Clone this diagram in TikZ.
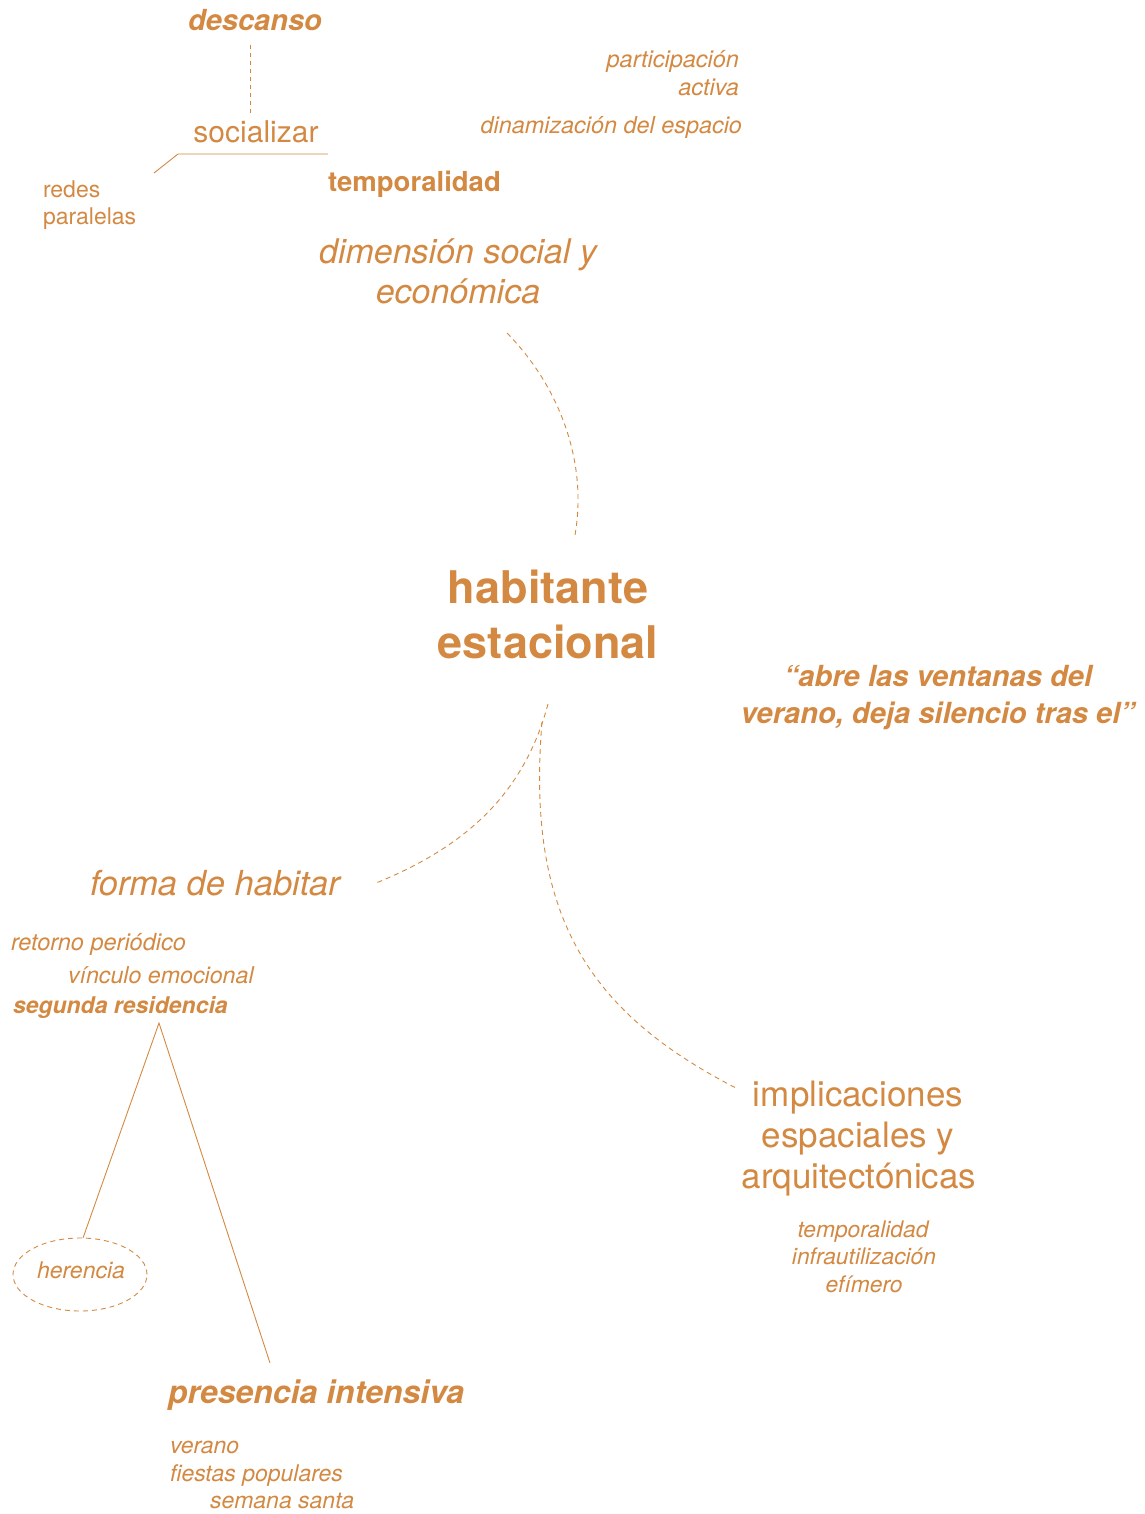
\documentclass[tikz,border=0pt]{standalone}
\usepackage{fontspec}
\setmainfont{TeX Gyre Heros}
\usetikzlibrary{shapes.geometric}
\definecolor{oc}{RGB}{211,137,66}
\tikzset{
  lbl/.style={text=oc, inner sep=0pt, outer sep=0pt},
  rg/.style={lbl, font=\fontsize{#1}{#1}\selectfont},
  it/.style={lbl, font=\fontsize{#1}{#1}\selectfont\itshape},
  bd/.style={lbl, font=\fontsize{#1}{#1}\selectfont\bfseries},
  bi/.style={lbl, font=\fontsize{#1}{#1}\selectfont\bfseries\itshape},
  dashlink/.style={draw=oc, line width=0.9pt, dash pattern=on 5pt off 4pt},
  solidlink/.style={draw=oc, line width=0.9pt},
}
\begin{document}
\begin{tikzpicture}[x=1pt, y=-1pt]
\useasboundingbox (0,0) rectangle (1144,1514);

% top cluster
\node[bi=29, anchor=base] (descanso) at (255,31) {descanso};
\node[rg=30, anchor=base] (socializar) at (256,143) {socializar};
\node[bd=27.5, anchor=base west] (temporalidad1) at (328,192) {temporalidad};
\node[rg=23, anchor=base west] (redes) at (43,198) {redes};
\node[rg=23, anchor=base west] (paralelas) at (43,225) {paralelas};
\node[it=23.5, anchor=base east] (participacion) at (739,68) {participación};
\node[it=23.5, anchor=base east] (activa) at (739,96) {activa};
\node[it=23.4, anchor=base east] (dinamizacion) at (742,134) {dinamización del espacio};

\coordinate (descansoDown) at (250,45);
\coordinate (socializarUp) at (250,113);
\coordinate (lineL) at (178,154);
\coordinate (lineR) at (328,154);
\coordinate (lineTip) at (154,173);
\draw[dashlink, dash pattern=on 4pt off 4pt] (descansoDown) -- (socializarUp);
\draw[solidlink] (lineR) -- (lineL) -- (lineTip);

% dimension social
\node[it=34, anchor=base] (dimension1) at (458,263) {dimensión social y};
\node[it=34, anchor=base] (dimension2) at (458,303) {económica};

% center
\node[bd=45, anchor=base] (habitante) at (548,603) {habitante};
\node[bd=45, anchor=base] (estacional) at (548,658) {estacional};

% quote
\node[bi=29.1, anchor=base] (quote1) at (938,686) {“abre las ventanas del};
\node[bi=29.1, anchor=base] (quote2) at (938,723) {verano, deja silencio tras el”};

% connector dimension -> habitante
\coordinate (dimEnd) at (507,333);
\coordinate (habTop) at (575,535);
\draw[dashlink] (dimEnd) .. controls (558,385) and (588,460) .. (habTop);

% forma de habitar
\node[it=34.5, anchor=base west] (forma) at (90,895) {forma de habitar};
\coordinate (habBotL) at (548,704);
\coordinate (formaEnd) at (376,883);
\draw[dashlink] (habBotL) .. controls (525,790) and (470,845) .. (formaEnd);

\node[it=23.5, anchor=base west] (retorno) at (11,950) {retorno periódico};
\node[it=23.2, anchor=base west] (vinculo) at (68,983) {vínculo emocional};
\node[bi=23, anchor=base west] (segunda) at (13,1013) {segunda residencia};

\coordinate (apex) at (159,1023);
\node[draw=oc, line width=0.9pt, dash pattern=on 5pt off 4pt, ellipse, minimum width=134pt, minimum height=73pt, inner sep=0pt] (herenciaEll) at (80,1274.5) {};
\node[it=23, anchor=base] (herencia) at (81,1278) {herencia};
\coordinate (herTop) at (83,1238);
\coordinate (presTop) at (270,1363);
\draw[solidlink] (herTop) -- (apex) -- (presTop);

\node[bi=32, anchor=base west] (presencia) at (168,1403) {presencia intensiva};
\node[it=23, anchor=base west] (verano) at (170,1453) {verano};
\node[it=23, anchor=base west] (fiestas) at (170,1481) {fiestas populares};
\node[it=23, anchor=base west] (semana) at (210,1508) {semana santa};

% implicaciones
\coordinate (habBotR) at (542,722);
\coordinate (implEnd) at (736,1088);
\draw[dashlink] (habBotR) .. controls (526,915) and (588,1012) .. (implEnd);

\node[rg=35, anchor=base] (impl1) at (858,1106) {implicaciones};
\node[rg=35, anchor=base] (impl2) at (858,1147) {espaciales y};
\node[rg=35, anchor=base] (impl3) at (859,1188) {arquitectónicas};

\node[it=22.8, anchor=base] (temporalidad2) at (863,1237) {temporalidad};
\node[it=22.8, anchor=base] (infra) at (864,1264) {infrautilización};
\node[it=22.8, anchor=base] (efimero) at (864,1292) {efímero};
\end{tikzpicture}
\end{document}
